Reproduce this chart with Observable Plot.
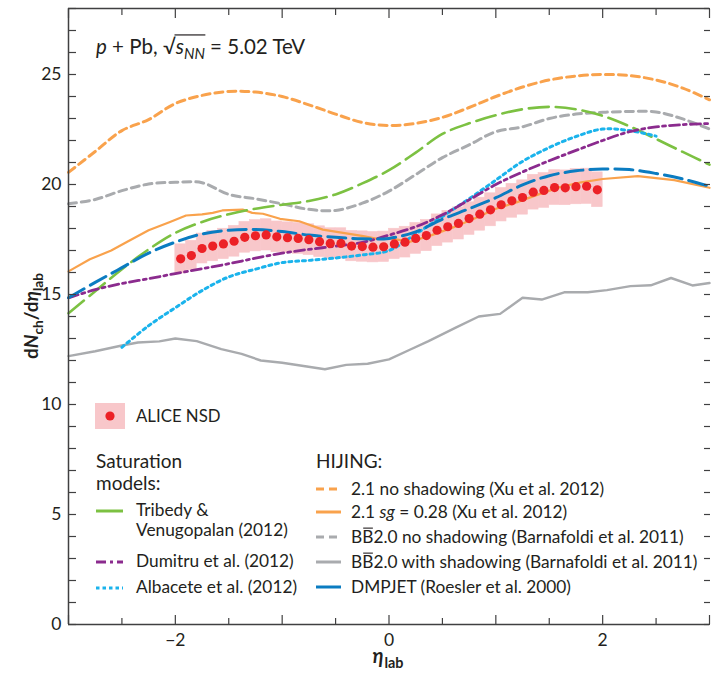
<!DOCTYPE html>
<html><head><meta charset="utf-8">
<script src="https://cdn.jsdelivr.net/npm/d3@7"></script>
<script src="https://cdn.jsdelivr.net/npm/@observablehq/plot@0.6"></script>
<style>
html,body{margin:0;padding:0;background:#fff;overflow:hidden}
#chart svg{display:block}
</style></head><body><div id="chart"></div>
<script>
// ---------- data ----------
const eta25 = [-3,-2.75,-2.5,-2.25,-2,-1.75,-1.5,-1.25,-1,-0.75,-0.5,-0.25,0,0.25,0.5,0.75,1,1.25,1.5,1.75,2,2.25,2.5,2.75,3];
const hijingNoShadow = [20.55,21.5,22.45,22.95,23.68,24.05,24.23,24.2,24.0,23.62,23.2,22.82,22.68,22.78,23.05,23.5,24.0,24.43,24.75,24.93,25.0,24.95,24.75,24.38,23.85];
const tribedy = [14.15,15.15,16.15,17.05,17.8,18.3,18.65,18.9,19.08,19.25,19.55,20.05,20.65,21.45,22.3,22.78,23.15,23.42,23.53,23.42,23.12,22.65,22.07,21.48,20.9];
const bbNoShadow = [19.12,19.32,19.72,20.02,20.1,20.08,19.55,19.35,19.12,18.87,18.82,19.15,19.7,20.45,21.22,21.8,22.4,22.62,23.0,23.2,23.28,23.32,23.3,22.98,22.52];
const dmpjet = [14.85,15.55,16.22,16.88,17.38,17.75,17.92,17.95,17.86,17.7,17.6,17.53,17.55,17.85,18.42,18.9,19.4,19.98,20.4,20.62,20.7,20.68,20.5,20.25,19.92];
const dumitru = [14.85,15.22,15.5,15.72,15.95,16.17,16.4,16.65,16.88,17.05,17.2,17.37,17.7,18.08,18.62,19.3,20.0,20.57,21.08,21.55,22.0,22.4,22.62,22.72,22.77];

const albaceteEta = [-2.5,-2.25,-2,-1.75,-1.5,-1.25,-1,-0.75,-0.5,-0.25,0,0.25,0.5,0.75,1,1.25,1.5,1.75,2,2.25,2.5];
const albacete = [12.6,13.58,14.4,15.18,15.8,16.15,16.45,16.55,16.66,16.8,17.0,17.75,18.55,19.35,20.2,21.05,21.68,22.18,22.52,22.45,22.2];

const hijingSgEta = [-3,-2.8,-2.6,-2.45,-2.25,-2.05,-1.9,-1.75,-1.65,-1.56,-1.37,-1.28,-1.18,-1.02,-0.84,-0.62,-0.43,-0.24,-0.11,0,0.2,0.4,0.6,0.8,1.0,1.2,1.4,1.6,1.8,2.0,2.33,2.67,3.0];
const hijingSg = [16.05,16.6,17.0,17.4,17.92,18.3,18.59,18.64,18.71,18.82,18.86,18.71,18.67,18.44,18.33,17.95,17.8,17.65,17.53,17.55,17.4,17.7,18.05,18.45,18.9,19.2,19.55,19.88,20.1,20.25,20.38,20.2,19.85];

const bbShadowEta = [-3,-2.75,-2.5,-2.35,-2.15,-2.0,-1.8,-1.57,-1.38,-1.2,-1.0,-0.8,-0.6,-0.4,-0.2,0,0.2,0.37,0.62,0.84,1.04,1.25,1.43,1.64,1.86,2.04,2.26,2.45,2.64,2.84,3.0];
const bbShadow = [12.2,12.42,12.68,12.82,12.87,13.0,12.88,12.52,12.3,12.0,11.9,11.75,11.6,11.8,11.85,12.05,12.5,12.88,13.48,14.0,14.12,14.85,14.77,15.1,15.1,15.2,15.38,15.42,15.75,15.41,15.52];

const aliceEta = [-1.95,-1.85,-1.75,-1.65,-1.55,-1.45,-1.35,-1.25,-1.15,-1.05,-0.95,-0.85,-0.75,-0.65,-0.55,-0.45,-0.35,-0.25,-0.15,-0.05,0.05,0.15,0.25,0.35,0.45,0.55,0.65,0.75,0.85,0.95,1.05,1.15,1.25,1.35,1.45,1.55,1.65,1.75,1.85,1.95];
const aliceValue = [16.62,16.77,17.09,17.2,17.3,17.42,17.6,17.67,17.71,17.62,17.58,17.55,17.49,17.4,17.32,17.32,17.2,17.18,17.15,17.17,17.3,17.38,17.55,17.68,17.92,18.08,18.23,18.45,18.65,18.85,19.08,19.26,19.41,19.65,19.73,19.86,19.85,19.9,19.92,19.76];
const aliceSys = [0.66,0.67,0.68,0.69,0.69,0.7,0.7,0.71,0.71,0.7,0.7,0.7,0.7,0.7,0.69,0.69,0.69,0.69,0.69,0.69,0.69,0.7,0.7,0.71,0.72,0.72,0.73,0.74,0.75,0.75,0.76,0.77,0.78,0.79,0.79,0.79,0.79,0.8,0.8,0.79];
const aliceBinHalf = 0.05;

const xMajorTicks = [-3,-2,-1,0,1,2,3];
const xMinorTicks = [-2.5,-1.5,-0.5,0.5,1.5,2.5];
const xLabelTicks = [-2,0,2];
const yTicks = d3.range(0, 29);
const yLabelTicks = [0,5,10,15,20,25];

// ---------- styles ----------
const ORANGE = "#f9a24c", GREEN = "#7cc142", GRAY = "#a9abae", BLUE = "#0b7cc1",
      PURPLE = "#8b2b8e", CYAN = "#1ab3ec", RED = "#ec2126", PINK = "#f8c7ca",
      AXIS = "#404041", TXT = "#231f20", FONT = "Lato";

const series = [
  {name:"bbShadow",  eta: bbShadowEta, v: bbShadow, stroke: GRAY, w: 2.4, dash: null, curve: "linear"},
  {name:"bbNoShadow",eta: eta25, v: bbNoShadow, stroke: GRAY, w: 3, dash: "8,5", curve: "catmull-rom"},
  {name:"hijingNoShadow", eta: eta25, v: hijingNoShadow, stroke: ORANGE, w: 3, dash: "8,5", curve: "catmull-rom"},
  {name:"hijingSg", eta: hijingSgEta, v: hijingSg, stroke: ORANGE, w: 2.2, dash: null, curve: "linear"},
  {name:"tribedy", eta: eta25, v: tribedy, stroke: GREEN, w: 2.6, dash: "20,7", curve: "catmull-rom"},
  {name:"albacete", eta: albaceteEta, v: albacete, stroke: CYAN, w: 3, dash: "3,3.8", curve: "catmull-rom"},
  {name:"dumitru", eta: eta25, v: dumitru, stroke: PURPLE, w: 2.8, dash: "10,4,3,4", curve: "catmull-rom"},
  {name:"dmpjet", eta: eta25, v: dmpjet, stroke: BLUE, w: 3, dash: "18,7", curve: "catmull-rom"}
];

const alice = aliceEta.map((e, i) => ({eta: e, v: aliceValue[i], sys: aliceSys[i]}));
const tickStyle = {tickFormat: () => "", stroke: AXIS, strokeWidth: 1.2, label: null};

const marks = [
  Plot.rect(alice, {x1: d => d.eta - aliceBinHalf, x2: d => d.eta + aliceBinHalf,
    y1: d => d.v - d.sys, y2: d => d.v + d.sys, fill: PINK, stroke: PINK, strokeWidth: 0.6}),
  ...series.map(s => Plot.line(s.eta.map((e, i) => ({eta: e, v: s.v[i]})),
    {x: "eta", y: "v", stroke: s.stroke, strokeWidth: s.w, strokeDasharray: s.dash, curve: s.curve})),
  Plot.dot(alice, {x: "eta", y: "v", r: 4.6, fill: RED, stroke: null}),
  // frame (left, bottom, top)
  Plot.ruleX([-3], {stroke: AXIS, strokeWidth: 1.5}),
  Plot.ruleY([0], {stroke: AXIS, strokeWidth: 1.5}),
  Plot.ruleY([28], {stroke: AXIS, strokeWidth: 1.5}),
  // inward ticks (drawn outward by Plot, shifted back inside by their own length)
  Plot.axisX({anchor: "bottom", ticks: xMajorTicks, tickSize: 9, dy: -9, ...tickStyle}),
  Plot.axisX({anchor: "bottom", ticks: xMinorTicks, tickSize: 6, dy: -6, ...tickStyle}),
  Plot.axisX({anchor: "top", ticks: xMajorTicks, tickSize: 9, dy: 9, ...tickStyle}),
  Plot.axisX({anchor: "top", ticks: xMinorTicks, tickSize: 6, dy: 6, ...tickStyle}),
  Plot.axisY({anchor: "left", ticks: yTicks, tickSize: 8, dx: 8, ...tickStyle}),
  Plot.axisY({anchor: "right", ticks: yTicks, tickSize: 6, dx: -6, ...tickStyle}),
  // tick labels
  Plot.axisX({anchor: "bottom", ticks: xLabelTicks, tickSize: 0, tickPadding: 9,
    tickFormat: d => d < 0 ? "\u2212" + Math.abs(d) : String(d), fill: TXT, label: null, fontSize: 17.5}),
  Plot.axisY({anchor: "left", ticks: yLabelTicks, tickSize: 0, tickPadding: 7, fill: TXT, label: null, fontSize: 17.5})
];

const chart = Plot.plot({
  width: 711, height: 673,
  marginLeft: 68, marginRight: 2, marginTop: 8, marginBottom: 49,
  x: {domain: [-3, 3], label: null},
  y: {domain: [0, 28], label: null},
  style: {fontFamily: FONT, fontSize: "17px", color: TXT, background: "white"},
  marks
});
document.getElementById("chart").append(chart);

// ---------- annotations: title, axis titles, legend ----------
const svg = d3.select(chart);
const ov = svg.append("g").attr("font-family", FONT).attr("fill", TXT).attr("text-anchor", "start");

function rich(parent, parts, size, opts = {}) {
  const grp = parent.append("g").attr("text-anchor", "start");
  let cx = 0;
  const pos = [];
  for (const p of parts) {
    const fs = p.sub ? size * 0.72 : size;
    const t = grp.append("text").attr("x", cx).attr("y", p.sub ? size * 0.26 : 0)
      .attr("font-size", fs).attr("text-anchor", "start").text(p.t);
    if (p.i) t.attr("font-style", "italic");
    if (p.b || opts.bold) t.attr("font-weight", "bold");
    const w = t.node().getComputedTextLength();
    pos.push({x0: cx, x1: cx + w});
    if (p.over) grp.append("line").attr("x1", cx + 1).attr("x2", cx + w - 0.5)
      .attr("y1", -size * 0.86).attr("y2", -size * 0.86).attr("stroke", TXT).attr("stroke-width", 1.1);
    cx += w + (p.dx || 0);
  }
  return {grp, width: cx, pos};
}

// title
{
  const size = 20.5;
  const r = rich(ov, [{t: "p", i: true}, {t: " + Pb, "}, {t: "\u221A"}, {t: "s", i: true}, {t: "NN", i: true, sub: true}, {t: " = 5.02 TeV"}], size);
  r.grp.attr("transform", "translate(96,54)");
  const a = r.pos[2], b = r.pos[4];
  r.grp.append("line").attr("x1", a.x1 - 1.2).attr("x2", b.x1 + 0.5)
    .attr("y1", -size * 0.93).attr("y2", -size * 0.93).attr("stroke", TXT).attr("stroke-width", 1.2);
}

// y axis title
{
  const r = rich(ov, [{t: "d"}, {t: "N", i: true}, {t: "ch", sub: true}, {t: "/d"}, {t: "\u03B7", i: true}, {t: "lab", sub: true}], 19, {bold: true});
  r.grp.attr("transform", `translate(38,${316}) rotate(-90) translate(${-r.width / 2},0)`);
}
// x axis title
{
  const r = rich(ov, [{t: "\u03B7", i: true, dx: 1}, {t: "lab", sub: true}], 20, {bold: true});
  r.grp.attr("transform", `translate(${388 - r.width / 2},663)`);
}

// legend
const LS = 17.3, HS = 19;
{
  ov.append("rect").attr("x", 95).attr("y", 403).attr("width", 30).attr("height", 26).attr("fill", PINK);
  ov.append("circle").attr("cx", 110).attr("cy", 416).attr("r", 4.6).attr("fill", RED);
  rich(ov, [{t: "ALICE NSD"}], 16.8).grp.attr("transform", "translate(136,422)");
  rich(ov, [{t: "Saturation"}], HS).grp.attr("transform", "translate(96,468)");
  rich(ov, [{t: "models:"}], HS).grp.attr("transform", "translate(96,490)");
  rich(ov, [{t: "HIJING:"}], HS).grp.attr("transform", "translate(316,468)");
}
function legLine(x, y, len, s) {
  ov.append("line").attr("x1", x).attr("x2", x + len).attr("y1", y).attr("y2", y)
    .attr("stroke", s.stroke).attr("stroke-width", 3).attr("stroke-dasharray", s.dash);
}
const leftLegend = [
  {y: 511, s: {stroke: GREEN}, lines: [[{t: "Tribedy &"}], [{t: "Venugopalan (2012)"}]]},
  {y: 562, s: {stroke: PURPLE, dash: "10,4,3,4"}, lines: [[{t: "Dumitru et al. (2012)"}]]},
  {y: 588, s: {stroke: CYAN, dash: "3.5,3"}, lines: [[{t: "Albacete et al. (2012)"}]]}
];
leftLegend.forEach(e => {
  legLine(96, e.y, 27, e.s);
  e.lines.forEach((ln, k) => rich(ov, ln, LS).grp.attr("transform", `translate(136,${e.y + 5 + k * 20})`));
});
const rightLegend = [
  {y: 489, s: {stroke: ORANGE, dash: "8,5"}, parts: [{t: "2.1 no shadowing (Xu et al. 2012)"}]},
  {y: 512, s: {stroke: ORANGE}, parts: [{t: "2.1 "}, {t: "sg", i: true}, {t: " = 0.28 (Xu et al. 2012)"}]},
  {y: 537, s: {stroke: GRAY, dash: "8,5"}, parts: [{t: "B"}, {t: "B", over: true}, {t: "2.0 no shadowing (Barnafoldi et al. 2011)"}]},
  {y: 562, s: {stroke: GRAY}, parts: [{t: "B"}, {t: "B", over: true}, {t: "2.0 with shadowing (Barnafoldi et al. 2011)"}]},
  {y: 587, s: {stroke: BLUE}, parts: [{t: "DMPJET (Roesler et al. 2000)"}]}
];
rightLegend.forEach(e => {
  legLine(316, e.y, 25, e.s);
  rich(ov, e.parts, LS).grp.attr("transform", `translate(351,${e.y + 6})`);
});
</script></body></html>
